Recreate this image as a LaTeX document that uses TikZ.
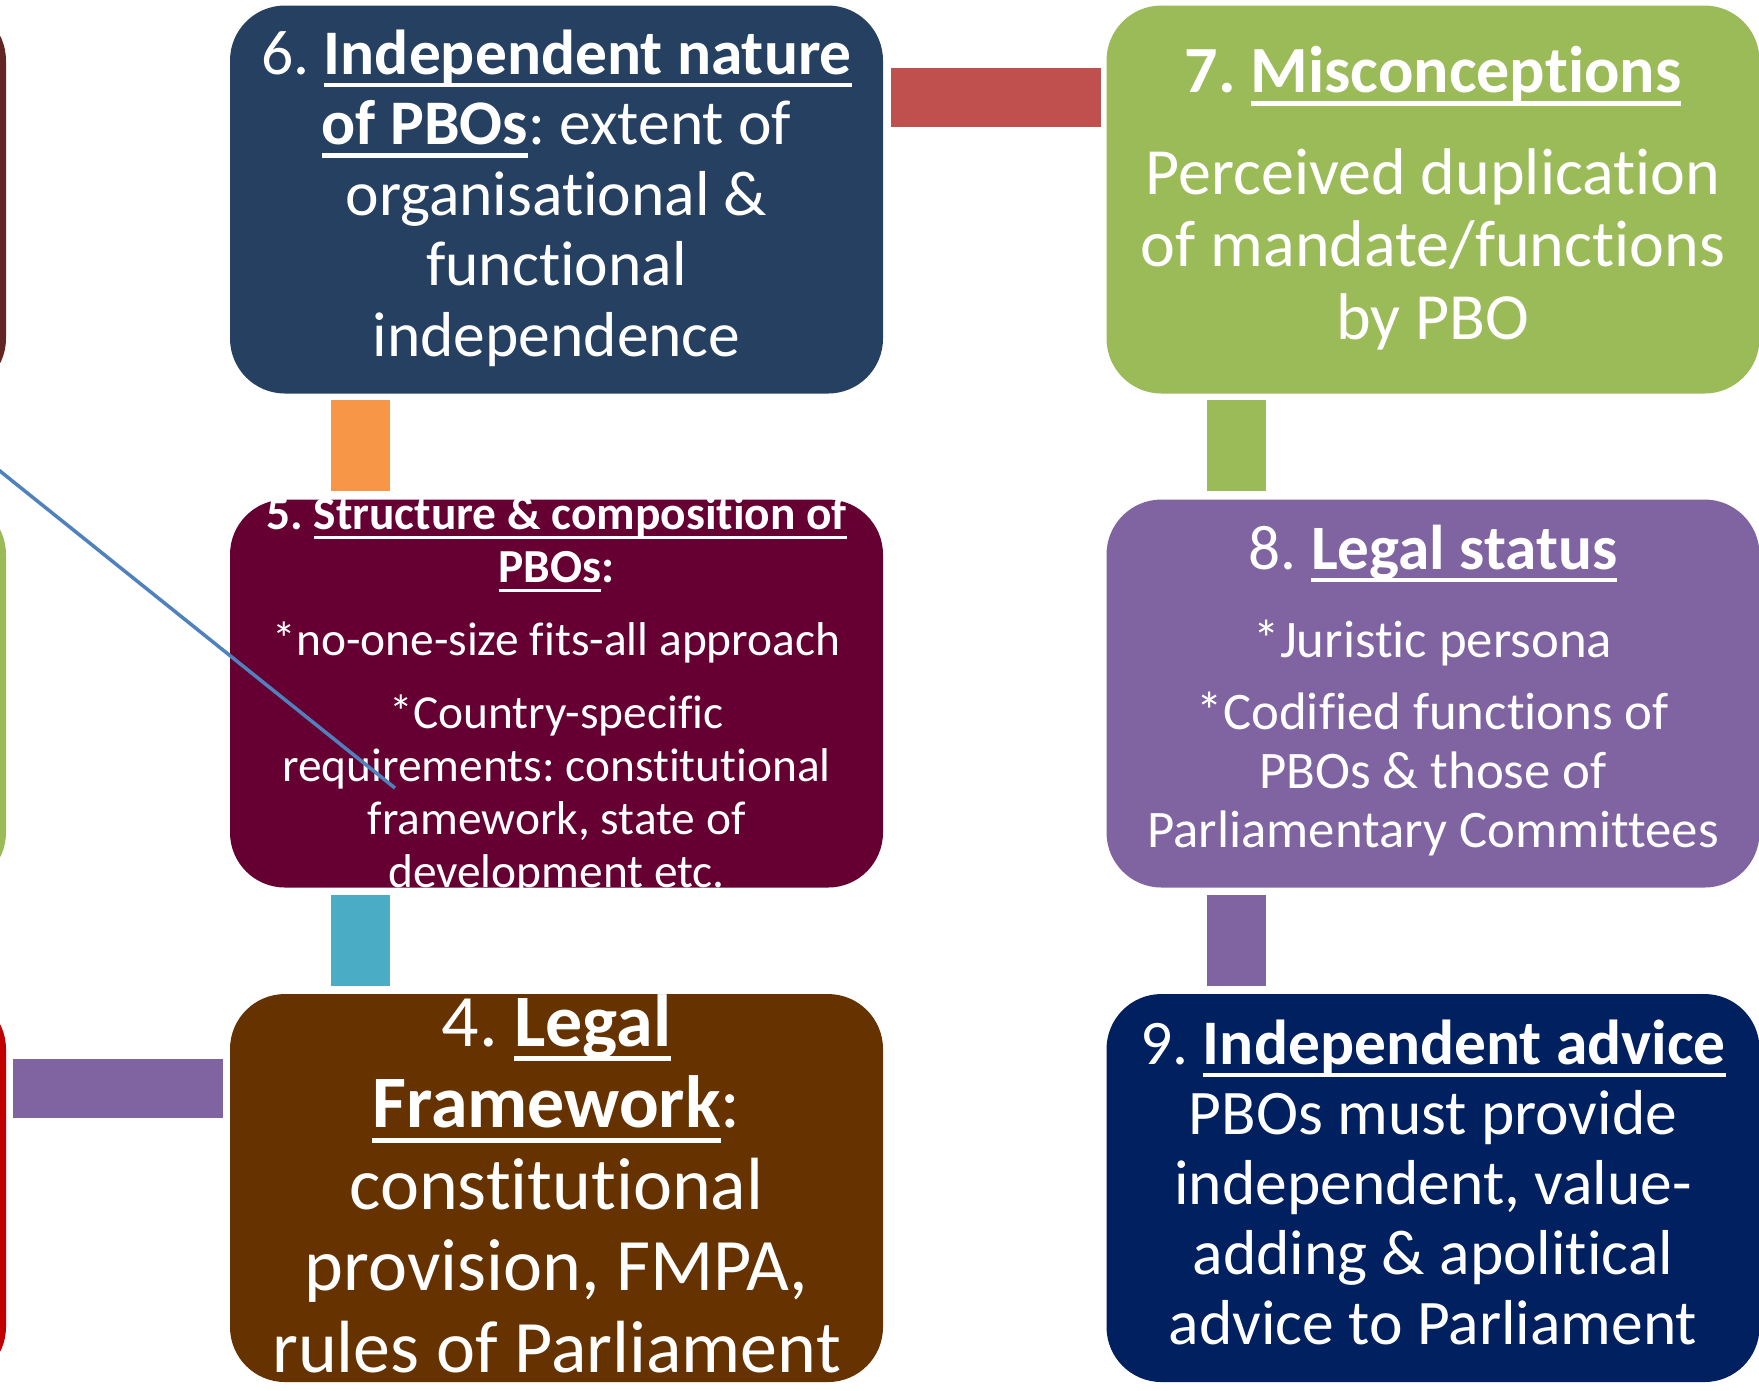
\documentclass[tikz,border=0pt]{standalone}
\usepackage{fontspec}
\setmainfont{Carlito}[Ligatures=NoCommon]
\usetikzlibrary{positioning}
\frenchspacing

\definecolor{boxnavy}{RGB}{38,64,97}
\definecolor{boxgreen}{RGB}{155,187,89}
\definecolor{boxmaroon}{RGB}{102,0,51}
\definecolor{boxpurple}{RGB}{128,100,162}
\definecolor{boxbrown}{RGB}{102,51,0}
\definecolor{boxblue}{RGB}{0,32,96}
\definecolor{boxrust}{RGB}{99,37,35}
\definecolor{boxred}{RGB}{192,0,0}
\definecolor{linkred}{RGB}{192,80,77}
\definecolor{linkorange}{RGB}{247,150,70}
\definecolor{linkcyan}{RGB}{75,172,198}
\definecolor{lineblue}{RGB}{79,129,189}

% underlined heading words
\newsavebox\uwbox
\newcommand{\uword}[1]{\sbox\uwbox{#1}\rlap{\rule[-.2em]{\wd\uwbox}{.065em}}\usebox\uwbox}

\begin{document}
\begin{tikzpicture}[
  box/.style={rounded corners=0.55cm, minimum width=6.53cm, minimum height=3.88cm, inner sep=0pt},
  txt/.style={text=white, text width=6.45cm, align=flush center, inner sep=0pt, anchor=base},
  bar/.style={line width=0.59cm}]
\useasboundingbox (0,0) rectangle (17.59,-13.90);

% boxes, three columns (the first one is cut off)
\node[box, fill=boxrust]   (c1) at (-3.205,-1.995) {};
\node[box, fill=boxgreen]  (c2) at (-3.205,-6.935) {};
\node[box, fill=boxred]    (c3) at (-3.205,-11.88) {};
\node[box, fill=boxnavy]   (b6) at (5.565,-1.995) {};
\node[box, fill=boxmaroon] (b5) at (5.565,-6.935) {};
\node[box, fill=boxbrown]  (b4) at (5.565,-11.88) {};
\node[box, fill=boxgreen]  (b7) at (14.33,-1.995) {};
\node[box, fill=boxpurple] (b8) at (14.33,-6.935) {};
\node[box, fill=boxblue]   (b9) at (14.33,-11.88) {};

% links between boxes
\draw[bar, linkred] ([xshift=0.07cm,yshift=1.025cm]b6.east) -- ([xshift=-0.05cm,yshift=1.025cm]b7.west);
\draw[bar, linkorange] ([xshift=-1.965cm,yshift=-0.06cm]b6.south) -- ([xshift=-1.965cm,yshift=0.08cm]b5.north);
\draw[bar, linkcyan] ([xshift=-1.965cm,yshift=-0.07cm]b5.south) -- ([xshift=-1.965cm,yshift=0.07cm]b4.north);
\draw[bar, boxgreen] ([xshift=-1.965cm,yshift=-0.06cm]b7.south) -- ([xshift=-1.965cm,yshift=0.08cm]b8.north);
\draw[bar, boxpurple] ([xshift=-1.965cm,yshift=-0.07cm]b8.south) -- ([xshift=-1.965cm,yshift=0.07cm]b9.north);
\draw[bar, boxpurple] ([xshift=0.06cm,yshift=1.0cm]c3.east) -- ([xshift=-0.06cm,yshift=1.0cm]b4.west);

% texts
\node[txt, font=\fontsize{18.07pt}{20.06pt}\selectfont] (t6) at ([yshift=-0.695cm]b6.north)
  {6. \textbf{\uword{Independent nature}}\\ \textbf{\uword{of PBOs}}: extent of\\ organisational \&\\ functional\\ independence};
\node[txt, font=\fontsize{18.78pt}{20.63pt}\selectfont] (t7) at ([yshift=-0.875cm]b7.north)
  {\textbf{7. \uword{Misconceptions}}\\[0.295cm] Perceived duplication\\ of mandate/functions\\ by PBO};
\node[txt, font=\fontsize{13.49pt}{15.08pt}\selectfont] (t5) at ([yshift=-0.31cm]b5.north)
  {\textbf{5. \uword{Structure \& composition of}}\\ \textbf{\uword{PBOs}:}\\[0.2cm]
   *no-one-size fits-all approach\\[0.2cm] *Country-specific\\ requirements: constitutional\\
   framework, state of\\ development etc.};
\node[txt, font=\fontsize{18pt}{20pt}\selectfont] (t8) at ([yshift=-0.705cm]b8.north)
  {8. \textbf{\uword{Legal status}}};
\node[txt, font=\fontsize{15.02pt}{16.79pt}\selectfont] (d8) at ([yshift=-1.585cm]b8.north)
  {*Juristic persona\\[0.13cm] *Codified functions of\\ PBOs \& those of\\ Parliamentary Committees};
\node[txt, font=\fontsize{21.05pt}{23.19pt}\selectfont] (t4) at ([yshift=-0.53cm]b4.north)
  {4. \textbf{\uword{Legal}}\\ \textbf{\uword{Framework}}:\\ constitutional\\ provision, FMPA,\\ rules of Parliament};
\node[txt, font=\fontsize{18.07pt}{19.9pt}\selectfont] (t9) at ([yshift=-0.71cm]b9.north)
  {9. \textbf{\uword{Independent advice}}\\ PBOs must provide\\ independent, value-\\ adding \& apolitical\\ advice to Parliament};

% pointer line
\coordinate (p0) at (-0.2,-4.55);
\coordinate (p1) at (3.95,-7.88);
\draw[lineblue, line width=1pt] (p0) -- (p1);
\end{tikzpicture}
\end{document}
